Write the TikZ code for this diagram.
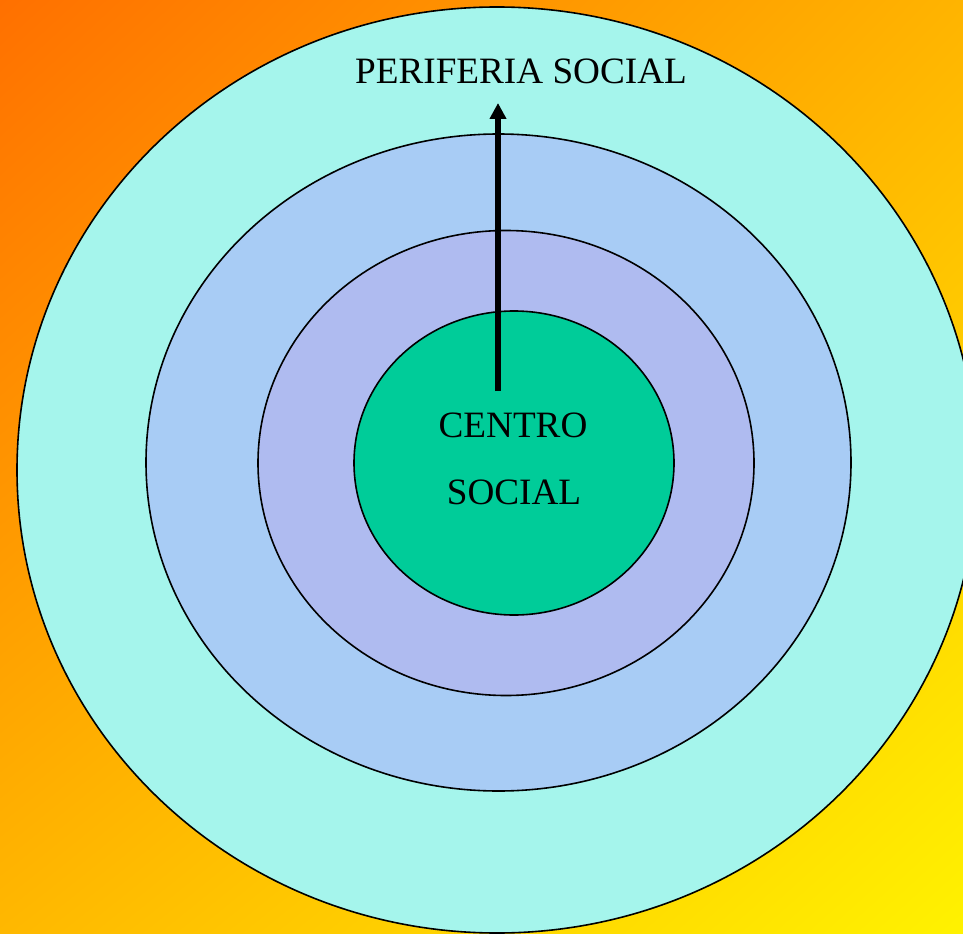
\documentclass[tikz,border=0pt]{standalone}
\usepackage{fontspec}
\setmainfont{Liberation Serif}
\usetikzlibrary{arrows.meta,shadings}
\definecolor{bgorange}{RGB}{255,112,0}
\definecolor{bgtopright}{RGB}{255,180,0}
\definecolor{bgbotleft}{RGB}{255,184,0}
\definecolor{bgyellow}{RGB}{255,242,0}
\definecolor{periferia}{RGB}{165,245,236}
\definecolor{anillodos}{RGB}{168,204,245}
\definecolor{anillotres}{RGB}{175,187,240}
\definecolor{centro}{RGB}{0,204,153}
\tikzset{
  ring/.style={draw=black,line width=1.2pt},
  lbl/.style={font=\fontsize{27.9}{31}\selectfont,inner sep=0pt,anchor=base}
}

\begin{document}
\begin{tikzpicture}[x=0.75pt,y=-0.75pt]
\useasboundingbox (0,0) rectangle (963,934);
\shade[upper left=bgorange,upper right=bgtopright,lower left=bgbotleft,lower right=bgyellow](0,0) rectangle (963,934);
\draw[ring,fill=periferia](497,470) ellipse [x radius=480,y radius=463];
\draw[ring,fill=anillodos](498.5,462.5) ellipse [x radius=352.5,y radius=328.5];
\draw[ring,fill=anillotres](506,463) ellipse [x radius=248,y radius=232.5];
\draw[ring,fill=centro](514,463) ellipse [x radius=160,y radius=152];
\node[lbl] (periferiatxt) at (521,84) {PERIFERIA SOCIAL};
\node[lbl] (centrotxt) at (513,437) {CENTRO};
\node[lbl] (socialtxt) at (514,504) {SOCIAL};
\coordinate (arrowbase) at (498,391);
\coordinate (arrowtip) at (498,103);
\draw[line width=3.8pt,-{Triangle[width=12pt,length=12pt]}](arrowbase)--(arrowtip);
\end{tikzpicture}
\end{document}
